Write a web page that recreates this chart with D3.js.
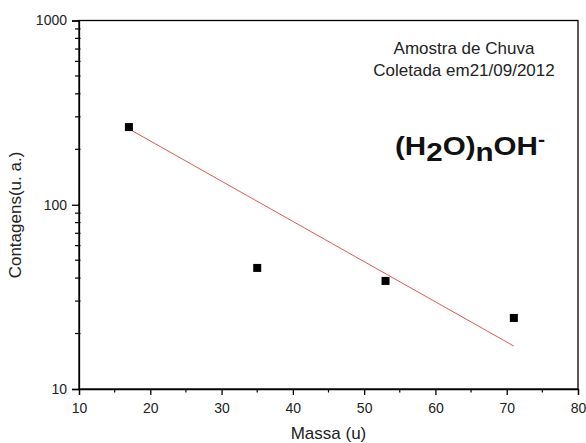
<!DOCTYPE html>
<html><head><meta charset="utf-8">
<script src="https://cdn.jsdelivr.net/npm/d3@7"></script>
<style>body{margin:0;background:#fff}svg{display:block;font-family:"Liberation Sans",Arial,sans-serif}</style>
</head><body>
<svg id="c" width="586" height="443"></svg>
<script>
const massa = [17, 35, 53, 71];
const contagens = [264, 45.4, 38.6, 24.3];
const fitX = [17, 71];
const fitY = [258, 17.1];
const xTicks = [10, 20, 30, 40, 50, 60, 70, 80];
const yTicks = [10, 100, 1000];

const svg = d3.select("#c");
const L = 79, R = 578, T = 20.5, B = 389;
const x = d3.scaleLinear().domain([10, 80]).range([L, R]);
const y = d3.scaleLog().domain([10, 1000]).range([B, T]);
const FF = "Liberation Sans, Arial, sans-serif";

// frame
svg.append("rect").attr("x", L).attr("y", T).attr("width", R - L).attr("height", B - T)
  .attr("fill", "none").attr("stroke", "#000").attr("stroke-width", 1.3);

// x axis
const xMinor = d3.range(15, 80, 10);
const gx = svg.append("g").attr("transform", `translate(0,${B})`);
gx.call(d3.axisBottom(x).tickValues(xTicks).tickFormat(d3.format("d")).tickSize(6))
  .call(g => g.select(".domain").attr("stroke-width", 1.3))
  .call(g => g.selectAll("text").attr("font-size", 14).attr("fill", "#222").attr("font-family", FF).attr("y", 24).attr("dy", 0))
  .call(g => g.selectAll(".tick line").attr("stroke-width", 1.3));
gx.selectAll("line.minor").data(xMinor).join("line").attr("class", "minor")
  .attr("x1", d => x(d)).attr("x2", d => x(d)).attr("y1", 0).attr("y2", 3.5)
  .attr("stroke", "#000").attr("stroke-width", 1.2);

// y axis
const yMinor = [];
[10, 100].forEach(dec => { for (let k = 2; k <= 9; k++) yMinor.push(dec * k); });
const gy = svg.append("g").attr("transform", `translate(${L},0)`);
gy.call(d3.axisLeft(y).tickValues(yTicks).tickFormat(d3.format("d")).tickSize(7).tickPadding(5))
  .call(g => g.select(".domain").attr("stroke-width", 1.3))
  .call(g => g.selectAll("text").attr("font-size", 14).attr("fill", "#222").attr("font-family", FF))
  .call(g => g.selectAll(".tick line").attr("stroke-width", 1.3));
gy.selectAll("line.minor").data(yMinor).join("line").attr("class", "minor")
  .attr("x1", -4).attr("x2", 1.5).attr("y1", d => y(d)).attr("y2", d => y(d))
  .attr("stroke", "#000").attr("stroke-width", 1.2);

// fit line
svg.append("path").datum(fitX.map((v, i) => [v, fitY[i]]))
  .attr("d", d3.line().x(d => x(d[0])).y(d => y(d[1])))
  .attr("fill", "none").attr("stroke", "#dd5a55").attr("stroke-width", 1);

// points
svg.selectAll("rect.pt").data(massa.map((v, i) => [v, contagens[i]])).join("rect").attr("class", "pt")
  .attr("x", d => x(d[0]) - 4).attr("y", d => y(d[1]) - 4).attr("width", 8).attr("height", 8).attr("fill", "#000");

// axis titles
svg.append("text").attr("x", (L + R) / 2).attr("y", 439).attr("text-anchor", "middle")
  .attr("font-size", 17).attr("fill", "#222").text("Massa (u)");
svg.append("text").attr("transform", `translate(21,215) rotate(-90)`).attr("text-anchor", "middle")
  .attr("font-size", 17).attr("fill", "#222").text("Contagens(u. a.)");

// annotations
svg.append("text").attr("x", 464).attr("y", 54).attr("text-anchor", "middle").attr("font-size", 17).attr("fill", "#222").text("Amostra de Chuva");
svg.append("text").attr("x", 464).attr("y", 76).attr("text-anchor", "middle").attr("font-size", 17).attr("fill", "#222").text("Coletada em21/09/2012");

const f = svg.append("text").attr("x", 395).attr("y", 155).attr("font-size", 25).attr("font-weight", "bold").attr("fill", "#111")
  .attr("textLength", 150).attr("lengthAdjust", "spacingAndGlyphs");
f.append("tspan").text("(H");
f.append("tspan").attr("dy", 6).text("2");
f.append("tspan").attr("dy", -6).text("O)");
f.append("tspan").attr("dy", 6).text("n");
f.append("tspan").attr("dy", -6).text("OH");
f.append("tspan").attr("dy", -9).attr("font-size", 18).text("-");
</script>
</body></html>
